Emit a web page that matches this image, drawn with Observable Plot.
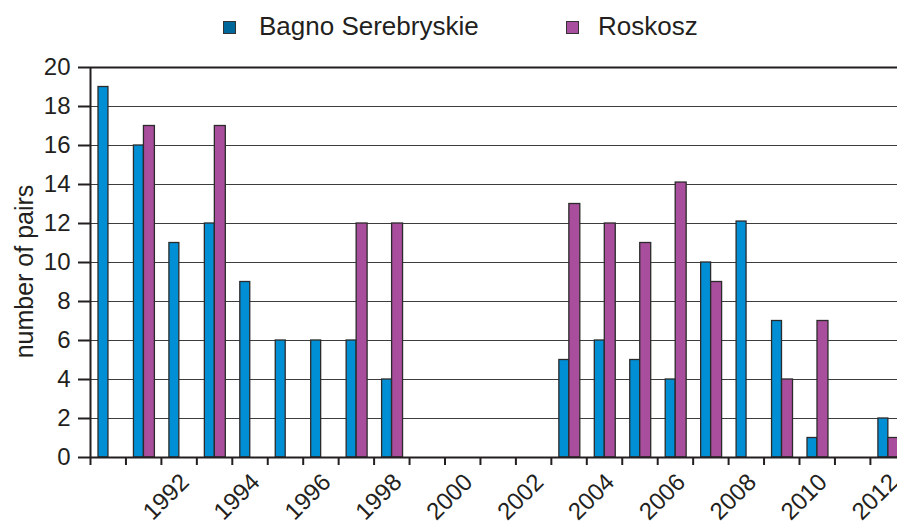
<!DOCTYPE html>
<html>
<head>
<meta charset="utf-8">
<script src="https://cdn.jsdelivr.net/npm/d3@7"></script>
<script src="https://cdn.jsdelivr.net/npm/@observablehq/plot@0.6"></script>
<style>
  body { margin: 0; background: #fff; overflow: hidden; font-family: "Liberation Sans", Arial, sans-serif; }
  #legend { position: relative; height: 50px; width: 897px; }
  .sw { position: absolute; top: 21px; width: 11px; height: 11px; border: 1px solid #333; }
  .lt { position: absolute; top: 13px; font-size: 26px; line-height: 26px; color: #231f20; white-space: nowrap; }
</style>
</head>
<body>
<div id="legend">
  <div class="sw" style="left:223px;background:#00679b"></div>
  <div class="lt" style="left:259px">Bagno Serebryskie</div>
  <div class="sw" style="left:566px;background:#a94f9f"></div>
  <div class="lt" style="left:598px">Roskosz</div>
</div>
<div id="chart"></div>
<script>
const years = [1990, 1991, 1992, 1993, 1994, 1995, 1996, 1997, 1998, 1999, 2000, 2001,
               2002, 2003, 2004, 2005, 2006, 2007, 2008, 2009, 2010, 2011, 2012];
const bagno = [19, 16, 11, 12, 9, 6, 6, 6, 4, 0, 0, 0, 0, 5, 6, 5, 4, 10, 12.1, 7, 1, 0, 2];
const roskosz = [0, 17, 0, 17, 0, 0, 0, 12, 12, 0, 0, 0, 0, 13, 12, 11, 14.1, 9, 0, 4, 7, 0, 1];
const labelYears = [1992, 1994, 1996, 1998, 2000, 2002, 2004, 2006, 2008, 2010, 2012];
const yTicks = [0, 2, 4, 6, 8, 10, 12, 14, 16, 18, 20];
const gridValues = [2, 4, 6, 8, 10, 12, 14, 16, 18];
const yTitle = "number of pairs";

const bsData = years.map((year, i) => ({year, value: bagno[i]}));
const rkData = years.map((year, i) => ({year, value: roskosz[i]}));

const ink = "#231f20";
const chart = Plot.plot({
  width: 897,
  height: 479,
  marginTop: 17,
  marginBottom: 72,
  marginLeft: 90,
  marginRight: 0,
  style: {fontFamily: "'Liberation Sans', Arial, sans-serif", background: "#fff", color: ink},
  x: {type: "linear", domain: [1990, 2013], range: [90, 905.35]},
  y: {domain: [0, 20]},
  marks: [
    Plot.gridY(gridValues, {stroke: "#3d3d3d", strokeOpacity: 1, strokeWidth: 1.2}),
    Plot.rectY(bsData, {filter: d => d.value > 0, x: "year", interval: 1, y: "value",
      insetLeft: 8, insetRight: 17.5, fill: "#008fd5", stroke: "#2b2b2b", strokeWidth: 1.3}),
    Plot.rectY(rkData, {filter: d => d.value > 0, x: "year", interval: 1, y: "value",
      insetLeft: 18, insetRight: 6.5, fill: "#a94e9c", stroke: "#2b2b2b", strokeWidth: 1.3}),
    Plot.ruleY([0, 20], {stroke: ink, strokeWidth: 2}),
    Plot.ruleX([1990], {y1: 0, y2: 20, stroke: ink, strokeWidth: 2}),
    Plot.axisY(yTicks, {tickSize: 12, tickPadding: 8, fontSize: 24, label: null, stroke: ink, strokeWidth: 2}),
    Plot.axisX(years, {tickSize: 8, tickFormat: () => "", label: null, stroke: ink, strokeWidth: 2}),
    Plot.text(labelYears, {x: d => d, text: d => String(d), frameAnchor: "bottom",
      rotate: -45, textAnchor: "end", lineAnchor: "bottom", dx: 29, dy: 26, fontSize: 24, fill: ink}),
    Plot.text([yTitle], {frameAnchor: "left", text: d => d, rotate: -90, textAnchor: "middle",
      dx: -66, dy: 9, fontSize: 25, fill: ink})
  ]
});
document.getElementById("chart").append(chart);
</script>
</body>
</html>
